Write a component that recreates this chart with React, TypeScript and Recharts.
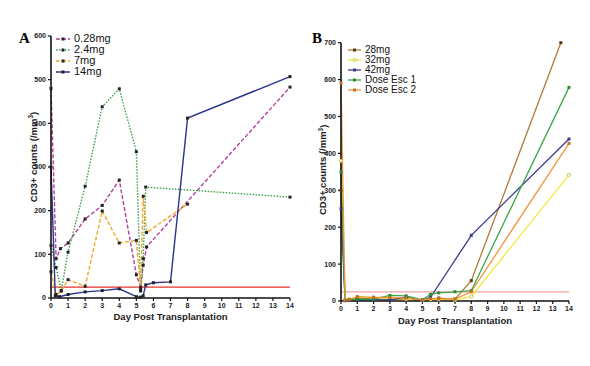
import React from "react";
import { LineChart, Line, XAxis, YAxis, ReferenceLine, Legend } from "recharts";

// Panel A
const A_028_days = [0, 0.3, 0.55, 1, 2, 3, 4, 5, 5.25, 5.4, 5.6, 14];
const A_028_vals = [480, 90, 113, 126, 181, 212, 270, 53, 25, 75, 117, 483];
const A_24_days = [0, 0.3, 0.6, 1, 2, 3, 4, 5, 5.25, 5.4, 5.55, 14];
const A_24_vals = [120, 70, 17, 105, 256, 438, 479, 335, 16, 90, 254, 231];
const A_7_days = [0, 0.3, 0.6, 1, 2, 3, 4, 5, 5.25, 5.4, 5.6, 8];
const A_7_vals = [60, 8, 16, 42, 27, 199, 126, 132, 20, 233, 150, 215];
const A_14_days = [0, 0.25, 0.5, 1, 2, 3, 4, 5, 5.25, 5.4, 5.55, 6, 7, 8, 14];
const A_14_vals = [300, 5, 3, 8, 14, 17, 21, 3, 2, 5, 30, 35, 37, 412, 507];

// Panel B
const B_28_days = [0, 0.25, 0.5, 1, 2, 3, 4, 5, 5.5, 6, 7, 8, 13.5];
const B_28_vals = [300, 2, 3, 8, 6, 5, 4, 2, 5, 8, 5, 55, 700];
const B_32_days = [0, 0.25, 0.5, 1, 2, 3, 4, 5, 5.5, 6, 7, 8, 14];
const B_32_vals = [380, 2, 5, 10, 10, 8, 5, 2, 4, 4, 3, 12, 342];
const B_42_days = [0, 0.25, 0.5, 1, 2, 3, 4, 5, 5.5, 8, 14];
const B_42_vals = [250, 1, 2, 4, 3, 3, 10, 2, 10, 178, 439];
const B_E1_days = [0, 0.25, 0.5, 1, 2, 3, 4, 5, 5.5, 6, 7, 8, 14];
const B_E1_vals = [350, 1, 3, 5, 5, 15, 14, 3, 18, 22, 25, 28, 579];
const B_E2_days = [0, 0.25, 0.5, 1, 2, 3, 4, 5, 5.5, 6, 7, 8, 14];
const B_E2_vals = [590, 2, 4, 12, 10, 10, 8, 3, 6, 6, 5, 25, 427];

const dayTicks = [0, 1, 2, 3, 4, 5, 6, 7, 8, 9, 10, 11, 12, 13, 14];
const A_yTicks = [0, 100, 200, 300, 400, 500, 600];
const B_yTicks = [0, 100, 200, 300, 400, 500, 600, 700];
const threshold = 25;

const zip = (d: number[], v: number[]) => d.map((x, i) => ({ day: x, value: v[i] }));

const seriesA = [
  { name: "0.28mg", data: zip(A_028_days, A_028_vals), color: "#b0409c", dash: "4 2", marker: "#222" },
  { name: "2.4mg", data: zip(A_24_days, A_24_vals), color: "#3aa04a", dash: "1.5 1.5", marker: "#222" },
  { name: "7mg", data: zip(A_7_days, A_7_vals), color: "#f0a82a", dash: "4 2", marker: "#222" },
  { name: "14mg", data: zip(A_14_days, A_14_vals), color: "#2a358a", dash: undefined, marker: "#222" },
];

const seriesB = [
  { name: "28mg", data: zip(B_28_days, B_28_vals), color: "#b27a38", marker: "#5a3a10", open: false },
  { name: "32mg", data: zip(B_32_days, B_32_vals), color: "#f2e83a", marker: "#c8b820", open: true },
  { name: "42mg", data: zip(B_42_days, B_42_vals), color: "#3a3c90", marker: "#3a3c90", open: false },
  { name: "Dose Esc 1", data: zip(B_E1_days, B_E1_vals), color: "#3aa845", marker: "#2a8a35", open: false },
  { name: "Dose Esc 2", data: zip(B_E2_days, B_E2_vals), color: "#f0953a", marker: "#c87020", open: false },
];

const tickStyle = { fontSize: 7, fontWeight: 700, fill: "#222", fontFamily: "Arial, Liberation Sans, sans-serif" };
const labelStyle = { fontSize: 9.5, fontWeight: 700, fill: "#222", fontFamily: "Arial, Liberation Sans, sans-serif" };

const LegendA = () => (
  <div style={{ fontFamily: "Arial, Liberation Sans, sans-serif", fontSize: 11, color: "#111", lineHeight: "11px" }}>
    {seriesA.map((s) => (
      <div key={s.name} style={{ display: "flex", alignItems: "center", height: 11 }}>
        <svg width={14} height={8} style={{ marginRight: 4 }}>
          <line x1={0} y1={4} x2={14} y2={4} stroke={s.color} strokeWidth={1.5} strokeDasharray={s.dash} />
          <rect x={5.5} y={2.5} width={3} height={3} fill={s.marker} />
        </svg>
        <span>{s.name}</span>
      </div>
    ))}
  </div>
);

const LegendB = () => (
  <div style={{ fontFamily: "Arial, Liberation Sans, sans-serif", fontSize: 10, color: "#111", lineHeight: "10px" }}>
    {seriesB.map((s) => (
      <div key={s.name} style={{ display: "flex", alignItems: "center", height: 10 }}>
        <svg width={13} height={8} style={{ marginRight: 4 }}>
          <line x1={0} y1={4} x2={13} y2={4} stroke={s.color} strokeWidth={1.3} />
          {s.open ? (
            <circle cx={6.5} cy={4} r={1.5} fill="#fff" stroke={s.marker} strokeWidth={0.8} />
          ) : (
            <rect x={5} y={2.5} width={3} height={3} fill={s.marker} />
          )}
        </svg>
        <span>{s.name}</span>
      </div>
    ))}
  </div>
);

const SquareDot = (color: string) => (props: any) => {
  const { cx, cy, index } = props;
  if (cx == null || cy == null) return <g key={index} />;
  return <rect key={index} x={cx - 1.5} y={cy - 1.5} width={3} height={3} fill={color} />;
};

const OpenDot = (color: string) => (props: any) => {
  const { cx, cy, index } = props;
  if (cx == null || cy == null) return <g key={index} />;
  return <circle key={index} cx={cx} cy={cy} r={1.6} fill="#fff" stroke={color} strokeWidth={0.8} />;
};

const YLabel = (props: any) => {
  const { viewBox, cx, shift } = props;
  const x = cx;
  const y = viewBox.y + viewBox.height / 2 + (shift || 0);
  return (
    <text x={x} y={y} transform={`rotate(-90, ${x}, ${y})`} textAnchor="middle" dominantBaseline="central" style={labelStyle}>
      CD3+ counts (/mm<tspan dy={-3} fontSize={6.5}>3</tspan><tspan dy={3}>)</tspan>
    </text>
  );
};

export default function App() {
  return (
    <div style={{ position: "absolute", left: 0, top: 0, width: 590, height: 366, background: "#fff", overflow: "hidden" }}>
      <div style={{ position: "absolute", left: 19, top: 30, fontFamily: "Liberation Serif, Times New Roman, serif", fontWeight: 700, fontSize: 15 }}>A</div>
      <div style={{ position: "absolute", left: 312, top: 30, fontFamily: "Liberation Serif, Times New Roman, serif", fontWeight: 700, fontSize: 15 }}>B</div>

      <div style={{ position: "absolute", left: 0, top: 0 }}>
        <LineChart width={300} height={340} margin={{ top: 36, right: 10, bottom: 0, left: 0 }}>
          <XAxis
            dataKey="day"
            type="number"
            domain={[0, 14]}
            ticks={dayTicks}
            interval={0}
            allowDuplicatedCategory={false}
            height={42}
            tick={tickStyle}
            tickSize={3}
            axisLine={{ stroke: "#111", strokeWidth: 1.6 }}
            tickLine={{ stroke: "#111", strokeWidth: 1.2 }}
            label={{ value: "Day Post Transplantation", position: "insideBottom", offset: 20, style: labelStyle }}
          />
          <YAxis
            type="number"
            domain={[0, 600]}
            ticks={A_yTicks}
            interval={0}
            width={51}
            tick={tickStyle}
            tickSize={3}
            axisLine={{ stroke: "#111", strokeWidth: 1.6 }}
            tickLine={{ stroke: "#111", strokeWidth: 1.2 }}
            label={<YLabel cx={33} shift={-10} />}
          />
          <ReferenceLine y={threshold} stroke="#e8302a" strokeWidth={1.3} />
          {seriesA.map((s) => (
            <Line
              key={s.name}
              data={s.data}
              dataKey="value"
              name={s.name}
              stroke={s.color}
              strokeWidth={1.4}
              strokeDasharray={s.dash}
              dot={SquareDot(s.marker)}
              isAnimationActive={false}
            />
          ))}
          <Legend content={() => <LegendA />} layout="vertical" verticalAlign="middle" align="center" wrapperStyle={{ left: 56, top: 33, width: 80 }} />
        </LineChart>
      </div>

      <div style={{ position: "absolute", left: 290, top: 0 }}>
        <LineChart width={290} height={343} margin={{ top: 42.7, right: 11, bottom: 0, left: 0 }}>
          <XAxis
            dataKey="day"
            type="number"
            domain={[0, 14]}
            ticks={dayTicks}
            interval={0}
            allowDuplicatedCategory={false}
            height={42}
            tick={tickStyle}
            tickSize={3}
            axisLine={{ stroke: "#111", strokeWidth: 1.6 }}
            tickLine={{ stroke: "#111", strokeWidth: 1.2 }}
            label={{ value: "Day Post Transplantation", position: "insideBottom", offset: 19, style: labelStyle }}
          />
          <YAxis
            type="number"
            domain={[0, 700]}
            ticks={B_yTicks}
            interval={0}
            width={51}
            tick={tickStyle}
            tickSize={3}
            axisLine={{ stroke: "#111", strokeWidth: 1.6 }}
            tickLine={{ stroke: "#111", strokeWidth: 1.2 }}
            label={<YLabel cx={33} shift={-2} />}
          />
          <ReferenceLine y={threshold} stroke="#f0a0a0" strokeWidth={1.3} />
          {seriesB.map((s) => (
            <Line
              key={s.name}
              data={s.data}
              dataKey="value"
              name={s.name}
              stroke={s.color}
              strokeWidth={1.3}
              dot={s.open ? OpenDot(s.marker) : SquareDot(s.marker)}
              isAnimationActive={false}
            />
          ))}
          <Legend content={() => <LegendB />} layout="vertical" verticalAlign="middle" align="center" wrapperStyle={{ left: 58, top: 45, width: 90 }} />
        </LineChart>
      </div>
    </div>
  );
}
